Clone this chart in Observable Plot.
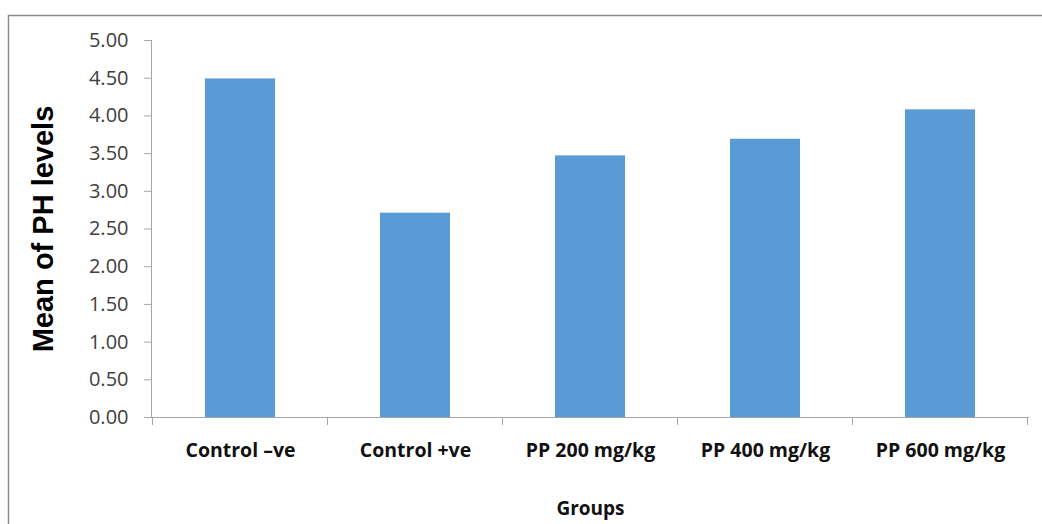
<!DOCTYPE html>
<html>
<head>
<meta charset="utf-8">
<script src="https://cdn.jsdelivr.net/npm/d3@7"></script>
<script src="https://cdn.jsdelivr.net/npm/@observablehq/plot@0.6"></script>
<style>
  html, body { margin: 0; padding: 0; background: #fff; }
  #chart svg { display: block; }
</style>
</head>
<body>
<div id="chart"></div>
<script>
const categories = ["Control –ve", "Control +ve", "PP 200 mg/kg", "PP 400 mg/kg", "PP 600 mg/kg"];
const values = [4.49, 2.71, 3.47, 3.69, 4.08];
const yTicks = [0, 0.5, 1, 1.5, 2, 2.5, 3, 3.5, 4, 4.5, 5];
const xTitle = "Groups";
const yTitle = "Mean of PH levels";

const data = categories.map((c, i) => ({group: c, value: values[i]}));

const axisGray = "#a6a6a6";

function boundaryTicks(index, scales, values, dimensions) {
  const x = scales.x;
  const step = x.step();
  const bw = x.bandwidth();
  const y0 = dimensions.height - dimensions.marginBottom;
  const left = x(categories[0]) - (step - bw) / 2;
  const g = d3.create("svg:g");
  for (let i = 0; i <= categories.length; i++) {
    const px = left + step * i;
    g.append("line")
      .attr("x1", px).attr("x2", px)
      .attr("y1", y0).attr("y2", y0 + 8)
      .attr("stroke", axisGray);
  }
  return g.node();
}

const chart = Plot.plot({
  width: 1042,
  height: 524,
  marginLeft: 151,
  marginRight: 13,
  marginTop: 40,
  marginBottom: 107,
  style: {fontFamily: "'Open Sans', Lato, sans-serif", background: "#fff"},
  x: {domain: categories, paddingInner: 0.6, paddingOuter: 0.3, label: null},
  y: {domain: [0, 5], label: null},
  marks: [
    Plot.barY(data, {x: "group", y: "value", fill: "#5B9BD5"}),
    Plot.frame({anchor: "left", stroke: axisGray}),
    Plot.ruleY([0], {stroke: axisGray}),
    Plot.axisY({
      ticks: yTicks, tickFormat: d3.format(".2f"), tickSize: 7, tickPadding: 16,
      fontSize: 20, color: "#404040", stroke: axisGray, label: null
    }),
    Plot.axisX({
      tickSize: 0, tickPadding: 26, fontSize: 19.5, fontWeight: "bold",
      color: "#111", label: null
    }),
    boundaryTicks,
    Plot.text([xTitle], {
      frameAnchor: "bottom", dy: 91, fontSize: 19, fontWeight: "bold",
      fill: "#111", lineAnchor: "middle"
    }),
    Plot.text([yTitle], {
      frameAnchor: "left", dx: -108, rotate: -90, fontSize: 29, fontWeight: "bold",
      fill: "#000", fontFamily: "'Liberation Sans', Arial, sans-serif",
      textAnchor: "middle", lineAnchor: "middle"
    })
  ]
});

d3.select(chart).insert("rect", ":first-child")
  .attr("x", 8.5).attr("y", 15.5)
  .attr("width", 1100).attr("height", 600)
  .attr("fill", "none").attr("stroke", "#8c8c8c").attr("stroke-width", 1.5);

document.getElementById("chart").appendChild(chart);
</script>
</body>
</html>
